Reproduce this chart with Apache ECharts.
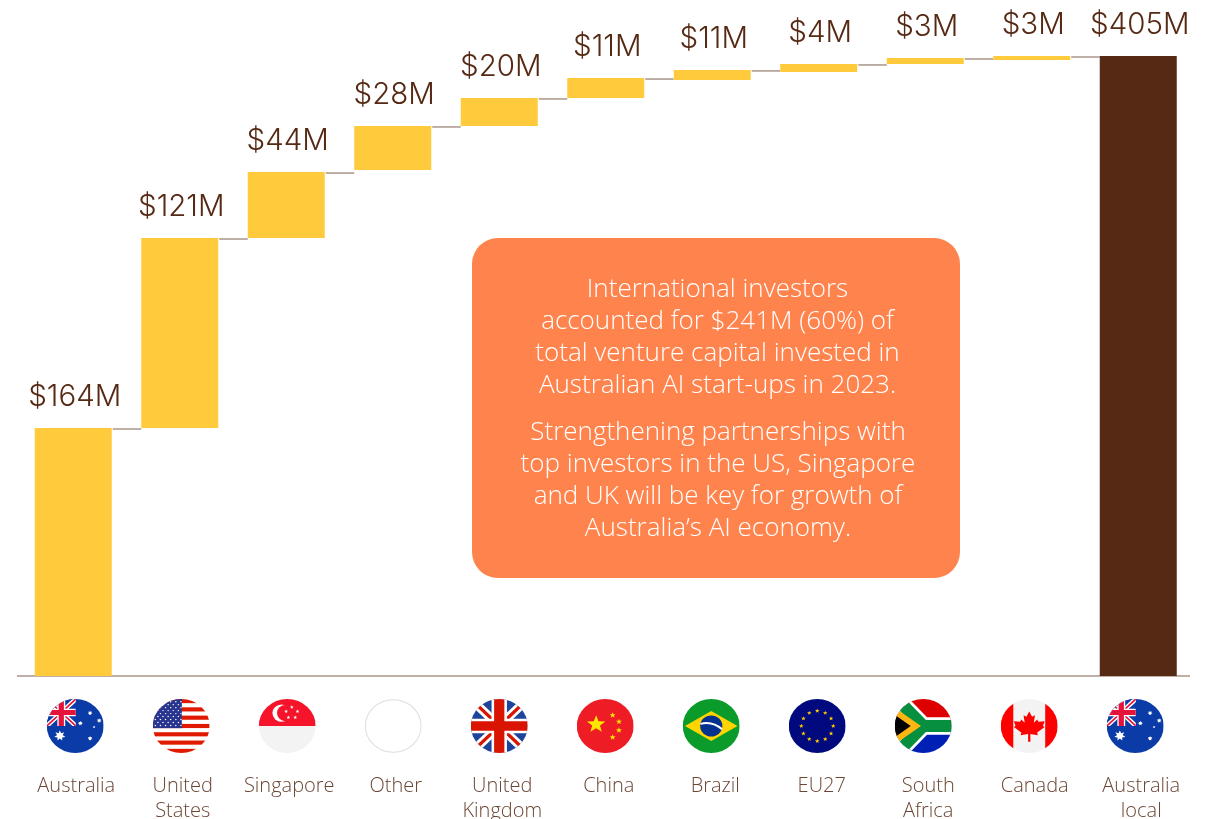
<!DOCTYPE html>
<html>
<head>
<meta charset="utf-8">
<style>html,body{margin:0;padding:0;background:#fff;overflow:hidden}#c{width:1211px;height:819px}</style>
<script src="https://cdn.jsdelivr.net/npm/echarts@6/dist/echarts.min.js"></script>
</head>
<body>
<div id="c"></div>
<script>
const categories = ['Australia','United\nStates','Singapore','Other','United\nKingdom','China','Brazil','EU27','South\nAfrica','Canada','Australia\nlocal'];
const flagCodes = ['au','us','sg','other','uk','cn','br','eu','za','ca','au'];
const valueLabels = ['$164M','$121M','$44M','$28M','$20M','$11M','$11M','$4M','$3M','$3M','$405M'];
// Bar extents as drawn in the picture (US$M on the chart's scale)
const barBase = [0,162,286.1,330.5,359.3,377.6,389.3,394.5,399.8,402.4,0];
const barTop = [162,286.1,329.2,359.3,377.6,390.6,395.9,399.8,403.7,405,405];
const noteOne = 'International investors\naccounted for $241M (60%) of\ntotal venture capital invested in\nAustralian AI start-ups in 2023.';
const noteTwo = 'Strengthening partnerships with\ntop investors in the US, Singapore\nand UK will be key for growth of\nAustralia\u2019s AI economy.';

const FONT = '"Open Sans"';
const VALUE_FONT = 'Inter';
function star(cx, cy, r, fill, pts) {
  pts = pts || 5;
  let p = [];
  for (let i = 0; i < pts * 2; i++) {
    const a = -Math.PI / 2 + i * Math.PI / pts;
    const rr = i % 2 ? r * (pts === 5 ? 0.42 : 0.5) : r;
    p.push((cx + rr * Math.cos(a)).toFixed(2) + ',' + (cy + rr * Math.sin(a)).toFixed(2));
  }
  return `<polygon points="${p.join(' ')}" fill="${fill}"/>`;
}
function unionJack(w, h, blue) {
  const cx = w / 2, cy = h / 2, k = w / 100;
  return `<rect width="${w}" height="${h}" fill="${blue}"/>` +
    `<path d="M0 0L${w} ${h}M${w} 0L0 ${h}" stroke="#fff" stroke-width="${16 * k}"/>` +
    `<path d="M0 0L${w} ${h}M${w} 0L0 ${h}" stroke="#E5133A" stroke-width="${6 * k}"/>` +
    `<path d="M${cx} 0V${h}M0 ${cy}H${w}" stroke="#fff" stroke-width="${27 * k}"/>` +
    `<path d="M${cx} 0V${h}M0 ${cy}H${w}" stroke="#E5133A" stroke-width="${18 * k}"/>`;
}
const flagArt = {
  au() {
    return `<rect width="100" height="100" fill="#0A3BA6"/><svg width="51" height="50" viewBox="0 0 100 100" preserveAspectRatio="none">${unionJack(100,100,'#0A3BA6')}</svg>` +
      star(23,68,10,'#fff',7) + star(76,26,4.5,'#fff',7) + star(59,45,4.5,'#fff',7) + star(92,40,4.5,'#fff',7) + star(83,52,2.6,'#fff') + star(76,73,4.5,'#fff',7);
  },
  us() {
    let s = '<rect width="100" height="100" fill="#fff"/>';
    for (let i = 0; i < 7; i++) s += `<rect y="${i * 15.38}" width="100" height="7.69" fill="#E01A00"/>`;
    s += '<rect width="51" height="54" fill="#27358F"/>';
    for (let r = 0; r < 9; r++) for (let c = 0; c < (r % 2 ? 5 : 6); c++) {
      s += `<circle cx="${(r % 2 ? 9 : 4.5) + c * 9}" cy="${5 + r * 5.5}" r="1.3" fill="#fff"/>`;
    }
    return s;
  },
  sg() {
    let s = '<rect width="100" height="100" fill="#F3F3F3"/><rect width="100" height="50" fill="#F5142A"/>' +
      '<circle cx="40" cy="26" r="16" fill="#fff"/><circle cx="47" cy="26" r="15" fill="#F5142A"/>';
    [[58,15],[68,23],[64,34],[52,34],[48,23]].forEach(p => { s += star(p[0], p[1], 3.6, '#fff'); });
    return s;
  },
  other() { return ''; },
  uk() { return unionJack(100, 100, '#1F459B').replace(/#E5133A/g, '#D91400'); },
  cn() {
    let s = '<rect width="100" height="100" fill="#EE1C25"/>' + star(34,47,17,'#FFE600');
    [[63,30],[74,42],[74,58],[63,71]].forEach(p => { s += star(p[0], p[1], 5.5, '#FFE600'); });
    return s;
  },
  br() {
    return '<rect width="100" height="100" fill="#0A9B2A"/><polygon points="4,50 50,22 96,50 50,78" fill="#FFD400"/>' +
      '<circle cx="50" cy="50" r="19.5" fill="#02318F"/><path d="M31 46Q52 40 69 56" stroke="#fff" stroke-width="3.5" fill="none"/>';
  },
  eu() {
    let s = '<rect width="100" height="100" fill="#000A7E"/>';
    for (let i = 0; i < 12; i++) {
      const a = i * Math.PI / 6;
      s += star(50 + 28 * Math.sin(a), 50 - 28 * Math.cos(a), 4.2, '#FFCC00');
    }
    return s;
  },
  za() {
    return '<rect width="100" height="50" fill="#DE0000"/><rect y="50" width="100" height="50" fill="#0020B5"/>' +
      '<path d="M0 -4L50 50H100M50 50L0 104" stroke="#fff" stroke-width="32" fill="none"/>' +
      '<path d="M0 -4L50 50H100M50 50L0 104" stroke="#058F3F" stroke-width="22" fill="none"/>' +
      '<polygon points="0,16 46,50 0,84" fill="#FFB612"/><polygon points="0,29 28,50 0,71" fill="#000"/>';
  },
  ca() {
    return '<rect width="100" height="100" fill="#F3F3F3"/><rect width="22" height="100" fill="#FF0000"/><rect x="78" width="22" height="100" fill="#FF0000"/>' +
      '<path d="M50 23L55 33L60 30L58 44L64 38L66 42L77 41L74 50L77 52L64 62L65 67L52 65V79H48V65L35 67L36 62L23 52L26 50L23 41L34 42L36 38L42 44L40 30L45 33Z" fill="#FF0000"/>';
  }
};
function flagUri(code) {
  let inner;
  if (code === 'other') {
    inner = '<circle cx="50" cy="50" r="48.8" fill="#fff" stroke="#DDDDDD" stroke-width="1.8"/>';
  } else {
    inner = `<defs><clipPath id="k"><circle cx="50" cy="50" r="50"/></clipPath></defs><g clip-path="url(#k)">${flagArt[code]()}</g>`;
  }
  const svg = `<svg xmlns="http://www.w3.org/2000/svg" width="171" height="162" viewBox="0 0 100 100" preserveAspectRatio="none">${inner}</svg>`;
  return 'data:image/svg+xml;charset=utf-8,' + encodeURIComponent(svg);
}
const flagImages = flagCodes.map(flagUri);

const chart = echarts.init(document.getElementById('c'), null, {renderer: 'canvas'});
const BAR_W = 77;
chart.setOption({
  animation: false,
  backgroundColor: '#fff',
  grid: {left: 20, width: 1171.5, top: 56, height: 620, containLabel: false, outerBoundsMode: 'none'},
  xAxis: {
    type: 'category',
    data: categories,
    axisTick: {show: false},
    axisLine: {show: false},
    axisLabel: {
      interval: 0,
      margin: 98,
      fontFamily: FONT,
      fontWeight: 300,
      fontSize: 20,
      lineHeight: 25,
      color: '#6B4634',
      padding: [0, 0, 0, 6],
      verticalAlign: 'top'
    }
  },
  yAxis: {type: 'value', min: 0, max: 405, show: false},
  series: [
    {
      name: 'base',
      type: 'bar',
      stack: 'w',
      barWidth: BAR_W,
      silent: true,
      itemStyle: {color: 'transparent'},
      data: barBase
    },
    {
      name: 'amount',
      type: 'bar',
      stack: 'w',
      barWidth: BAR_W,
      data: barTop.map((t, i) => ({
        value: t - barBase[i],
        itemStyle: {color: i === barTop.length - 1 ? '#562914' : '#FFCA3C'}
      })),
      label: {
        show: true,
        position: 'top',
        distance: 16,
        fontFamily: VALUE_FONT,
        fontWeight: 300,
        fontSize: 29.5,
        color: '#562914',
        padding: [0, 0, 0, 3],
        formatter: p => valueLabels[p.dataIndex]
      }
    },
    {
      name: 'connectors',
      type: 'custom',
      silent: true,
      clip: false,
      coordinateSystem: 'cartesian2d',
      data: barTop.slice(0, -1).map((t, i) => [i, t]),
      renderItem(params, api) {
        const i = api.value(0);
        const a = api.coord([i, api.value(1)]);
        const b = api.coord([i + 1, api.value(1)]);
        return {
          type: 'line',
          shape: {x1: a[0] + BAR_W / 2 + 1, y1: a[1] + 1, x2: b[0] - BAR_W / 2, y2: a[1] + 1},
          style: {stroke: '#A8968A', lineWidth: 1.5}
        };
      }
    },
    {
      name: 'flags',
      type: 'custom',
      silent: true,
      clip: false,
      coordinateSystem: 'cartesian2d',
      data: flagImages.map((f, i) => [i, 0]),
      renderItem(params, api) {
        const i = api.value(0);
        const p = api.coord([i, 0]);
        const cx = p[0] + 2 - 0.5 * i;
        return {
          type: 'image',
          style: {image: flagImages[i], x: cx - 28.5, y: p[1] + 23, width: 57, height: 54}
        };
      }
    }
  ],
  graphic: [
    {type: 'line', silent: true, shape: {x1: 17, y1: 676, x2: 1190, y2: 676}, style: {stroke: '#A8968A', lineWidth: 1.5}},
    {type: 'rect', silent: true, shape: {x: 472, y: 238, width: 488, height: 340, r: 26}, style: {fill: '#FF834C'}},
    {type: 'text', silent: true, x: 717.5, y: 337.5, style: {text: noteOne, fill: '#fff', font: '300 26px ' + FONT, lineHeight: 32, align: 'center', verticalAlign: 'middle'}},
    {type: 'text', silent: true, x: 718, y: 481, style: {text: noteTwo, fill: '#fff', font: '300 26px ' + FONT, lineHeight: 32, align: 'center', verticalAlign: 'middle'}}
  ]
});
</script>
</body>
</html>
